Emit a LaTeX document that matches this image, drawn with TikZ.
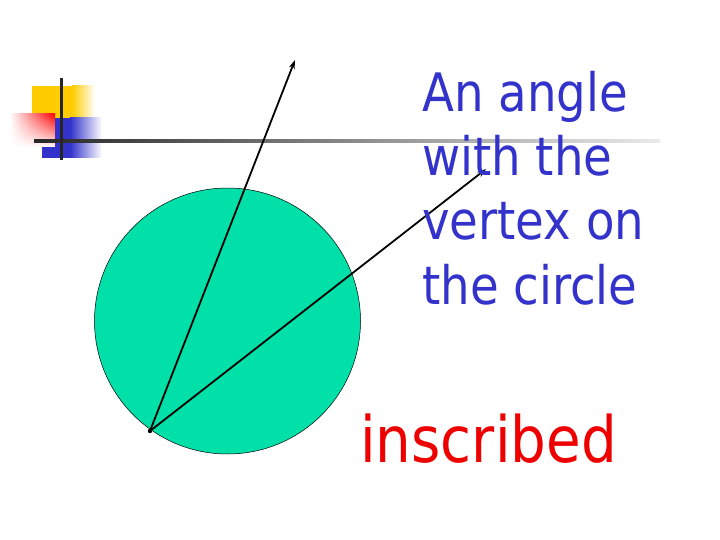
\documentclass[tikz,border=0pt]{standalone}
\usepackage{fontspec}
\newfontfamily\tfont[FakeStretch=0.88]{DejaVu Sans}
\usetikzlibrary{arrows.meta,fadings}
\definecolor{txtblue}{HTML}{3333CC}
\definecolor{txtred}{HTML}{EE0000}
\definecolor{circfill}{HTML}{00E0A8}
\definecolor{decyellow}{HTML}{FFCC00}
\definecolor{decblue}{HTML}{3333CC}
\tikzset{
  ray/.style={line width=1.8pt, -{Stealth[length=9pt,width=6pt]}},
  bluetext/.style={text=txtblue, font=\tfont\fontsize{53}{64}\selectfont, anchor=base west, inner sep=0pt},
  redtext/.style={text=txtred, font=\tfont\fontsize{64}{70}\selectfont, anchor=base west, inner sep=0pt},
}
\begin{document}
\begin{tikzpicture}[x=1pt,y=-1pt]
\useasboundingbox (0,0) rectangle (720,540);
% decoration
\shade[left color=decyellow, right color=white] (72,86) rectangle (95,118);
\fill[decyellow] (32,86) rectangle (72.5,118);
\shade[left color=decblue, right color=white] (70,118) rectangle (102,158);
\fill[decblue] (42,118) rectangle (70.5,158);
\shade[left color=white, right color=red] (10,114) rectangle (55,147);
\fill[white, path fading=north, fill opacity=1] (10,114) rectangle (55,147);
\shade[left color=black!85, right color=black!8] (34,139.5) rectangle (660,142.5);
\fill[black!85] (59.5,78) rectangle (62.5,160);
% circle
\node[circle, draw=black, line width=0.5pt, fill=circfill, minimum size=266pt, inner sep=0pt] (c) at (227.5,321) {};
\coordinate (v) at (150,431);
\coordinate (a1) at (295,60);
\coordinate (a2) at (486,169);
\draw[ray] (v) -- (a1);
\draw[ray] (v) -- (a2);
\fill (v) circle (2.2pt);
% text
\node[bluetext] (l1) at (422,112) {An angle};
\node[bluetext] (l2) at (422,176) {with the};
\node[bluetext] (l3) at (422,240) {vertex on};
\node[bluetext] (l4) at (422,304) {the circle};
\node[redtext] (ins) at (360,462) {inscribed};
\end{tikzpicture}
\end{document}
